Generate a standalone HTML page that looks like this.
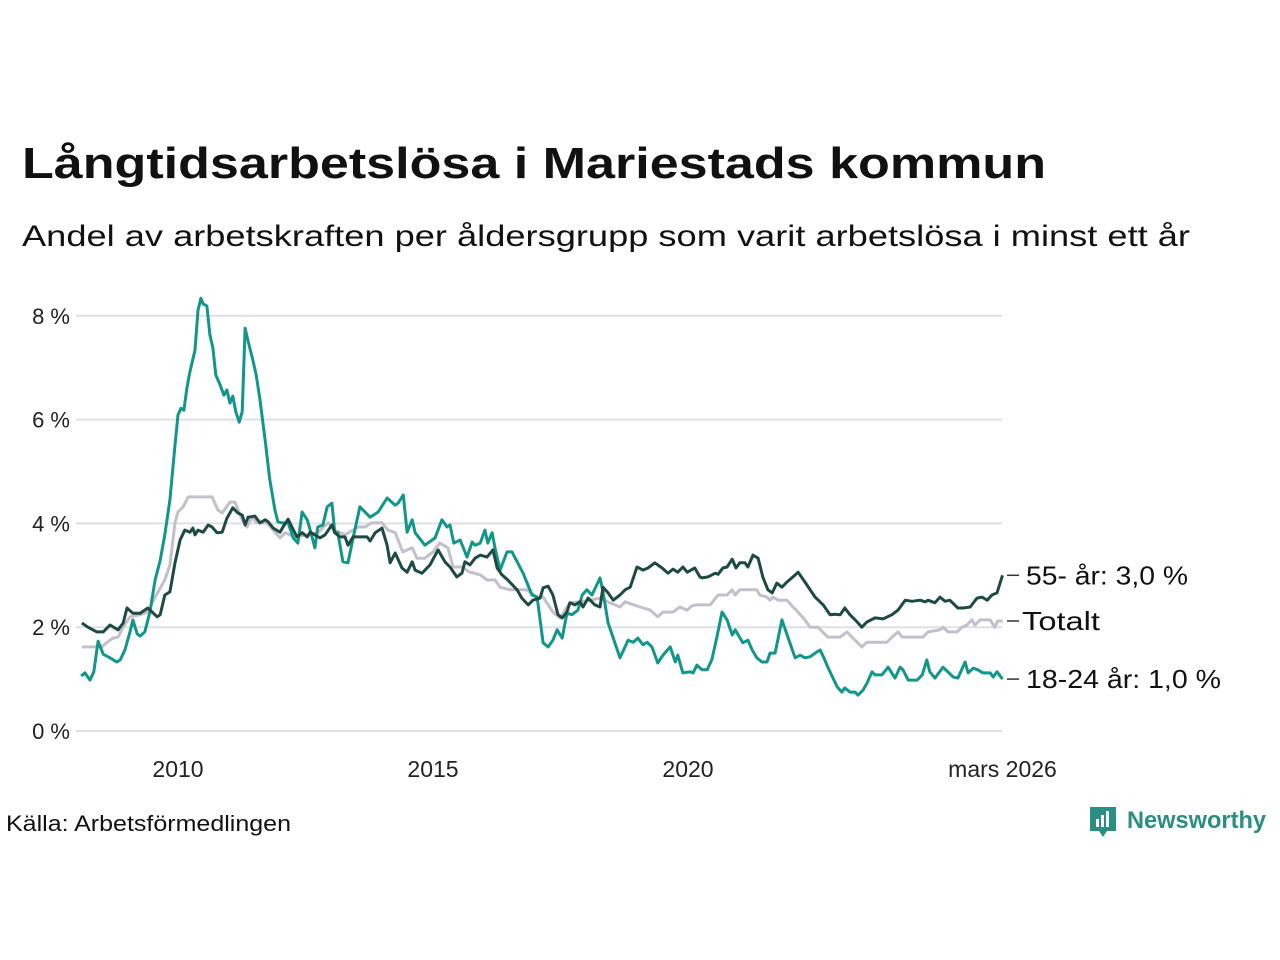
<!DOCTYPE html>
<html><head><meta charset="utf-8"><style>
body{margin:0;background:#fff;}
svg{display:block;font-family:"Liberation Sans","DejaVu Sans",sans-serif;}
</style></head><body>
<svg id="chart" width="1280" height="960" viewBox="0 0 1280 960">
<text x="22" y="178" font-size="44" font-weight="bold" fill="#111" textLength="1024" lengthAdjust="spacingAndGlyphs">Långtidsarbetslösa i Mariestads kommun</text>
<text x="22" y="246" font-size="30" fill="#111" textLength="1168" lengthAdjust="spacingAndGlyphs">Andel av arbetskraften per åldersgrupp som varit arbetslösa i minst ett år</text>
<g id="grid"></g>
<g id="lines"></g>
<g id="labels"></g>
<text x="6" y="831" font-size="22" fill="#111" textLength="285" lengthAdjust="spacingAndGlyphs">Källa: Arbetsförmedlingen</text>
<g>
<path d="M1090 807 h26 v24 h-9 l-4 6 l-4 -6 h-9 z" fill="#2a8f80"/>
<rect x="1096" y="819" width="3" height="8" fill="#fff"/><rect x="1101" y="815" width="3" height="12" fill="#fff"/><rect x="1106" y="811" width="3" height="16" fill="#fff"/>
<text x="1127" y="828" font-size="24" font-weight="bold" fill="#2a8f80" textLength="139" lengthAdjust="spacingAndGlyphs">Newsworthy</text>
</g>
</svg>
<script>
// months since Jan 2008
const yTicks=[0,2,4,6,8];
const yTickLabels=["0 %","2 %","4 %","6 %","8 %"];
const xTicks=[24,84,144,218];
const xTickLabels=["2010","2015","2020","mars 2026"];
const youngM=[1.2,2.1,3.3,4.2,5.2,6.4,8.0,9.6,10.4,11.5,12.7,13.4,14.4,15.1,16.2,17.4,18.6,19.8,20.9,22.1,23.3,24.0,24.7,25.4,26.1,26.8,28.0,28.7,29.4,29.9,30.8,31.5,32.2,32.9,33.9,34.8,35.5,36.2,36.9,37.6,38.4,39.1,39.8,40.7,41.6,42.4,43.3,44.5,45.6,46.8,47.5,48.5,49.9,51.1,52.2,53.2,54.4,55.1,56.2,56.9,58.1,59.1,60.2,60.9,61.6,62.8,64.0,65.2,66.8,69.2,71.1,73.2,75.1,75.8,77.0,77.9,79.1,79.8,82.1,84.5,86.1,87.3,88.0,88.9,90.4,92.0,93.2,93.9,95.1,96.2,96.9,97.9,98.6,99.8,101.4,102.6,105.2,107.3,108.5,109.9,111.1,112.2,113.2,114.4,115.5,116.7,118.1,119.1,120.2,121.4,123.3,124.0,125.2,128.0,129.9,131.1,132.2,133.4,134.4,135.5,136.9,138.1,139.8,141.0,141.6,142.8,144.5,145.2,146.1,147.3,148.5,149.6,150.8,152.0,153.2,154.4,155.1,156.9,158.1,159.1,160.2,161.4,162.6,163.3,164.5,166.1,167.5,169.2,170.4,171.5,172.7,173.9,175.1,176.2,176.9,179.1,180.2,180.9,182.1,183.3,184.0,185.2,186.1,187.3,188.0,189.6,191.1,192.7,193.9,194.6,195.8,197.9,199.1,200.2,200.9,202.1,204.0,206.4,207.5,209.2,209.9,211.1,212.2,213.4,215.1,215.8,216.7,218];
const youngV=[1.06,1.12,0.98,1.14,1.73,1.48,1.41,1.33,1.37,1.56,1.91,2.14,1.87,1.83,1.91,2.29,2.91,3.29,3.78,4.45,5.51,6.09,6.22,6.18,6.61,6.92,7.34,8.11,8.34,8.23,8.19,7.63,7.38,6.86,6.67,6.47,6.57,6.32,6.45,6.15,5.95,6.15,7.76,7.44,7.15,6.86,6.38,5.61,4.84,4.26,4.03,4.01,4.01,3.72,3.62,4.22,4.07,3.87,3.53,3.93,3.97,4.32,4.39,3.82,3.82,3.26,3.24,3.72,4.32,4.12,4.22,4.49,4.35,4.39,4.55,3.83,4.07,3.82,3.58,3.72,4.07,3.93,3.97,3.62,3.68,3.35,3.64,3.58,3.62,3.87,3.62,3.82,3.53,3.10,3.45,3.45,3.04,2.62,2.58,1.70,1.62,1.75,1.95,1.79,2.27,2.24,2.33,2.62,2.72,2.62,2.95,2.68,2.08,1.41,1.75,1.71,1.79,1.66,1.71,1.62,1.31,1.46,1.62,1.33,1.46,1.12,1.14,1.12,1.27,1.18,1.18,1.37,1.81,2.29,2.14,1.85,1.95,1.70,1.75,1.56,1.41,1.33,1.33,1.50,1.50,2.14,1.81,1.41,1.46,1.41,1.43,1.50,1.56,1.37,1.23,0.85,0.75,0.83,0.75,0.75,0.69,0.79,0.92,1.14,1.08,1.08,1.23,1.02,1.23,1.18,0.98,0.98,1.08,1.37,1.14,1.02,1.23,1.04,1.02,1.33,1.12,1.21,1.18,1.12,1.12,1.04,1.14,1.0];
const oldM=[1.4,2.8,4.9,6.4,8.0,9.9,11.1,12.0,13.4,15.1,16.9,19.1,19.8,20.9,22.1,23.3,24.5,25.6,26.8,27.5,28.0,28.7,29.9,31.1,32.0,33.2,34.4,35.5,36.9,38.1,39.1,39.8,40.5,42.1,43.3,44.5,45.2,46.4,48.0,48.7,49.9,50.8,52.0,53.2,54.4,55.1,56.2,57.4,58.6,60.2,60.9,62.1,63.3,64.0,65.2,66.8,68.5,69.2,70.4,72.0,73.2,73.9,75.1,76.7,77.9,79.1,79.8,81.4,83.3,85.2,86.8,88.0,89.6,90.8,91.5,92.7,93.9,95.1,96.7,98.1,99.1,100.2,101.6,103.8,104.9,106.4,107.5,109.2,109.9,111.1,112.2,113.4,114.4,115.5,116.2,117.4,118.6,119.3,120.5,122.1,123.3,124.0,125.2,126.4,128.0,129.2,130.4,132.0,133.4,134.6,136.2,137.9,139.3,140.5,141.6,142.8,143.8,145.6,146.8,147.3,148.7,150.4,151.1,152.2,153.2,154.4,155.3,156.2,157.4,158.1,159.3,160.5,161.6,162.8,163.8,164.9,166.1,167.3,168.7,169.9,171.5,173.9,175.8,177.4,178.6,179.8,180.9,182.1,183.8,184.9,186.1,188.0,189.9,192.0,193.4,195.1,196.7,198.6,199.8,200.5,202.1,203.3,204.5,205.6,207.5,208.7,210.4,212.0,213.2,214.4,215.5,216.7,218];
const oldV=[2.08,2.00,1.91,1.91,2.04,1.95,2.08,2.37,2.27,2.27,2.37,2.20,2.24,2.62,2.68,3.24,3.68,3.87,3.83,3.91,3.78,3.87,3.83,3.97,3.93,3.82,3.83,4.10,4.30,4.20,4.16,3.97,4.12,4.14,4.01,4.07,4.03,3.91,3.83,3.93,4.08,3.93,3.74,3.82,3.74,3.83,3.78,3.72,3.78,3.97,3.82,3.74,3.74,3.58,3.74,3.74,3.74,3.66,3.82,3.91,3.58,3.24,3.43,3.14,3.06,3.26,3.10,3.04,3.20,3.49,3.26,3.16,2.97,3.04,3.26,3.20,3.33,3.39,3.35,3.49,3.14,3.01,2.91,2.72,2.56,2.43,2.52,2.56,2.76,2.79,2.62,2.24,2.18,2.29,2.47,2.43,2.49,2.39,2.56,2.43,2.39,2.77,2.66,2.52,2.62,2.72,2.77,3.16,3.10,3.14,3.24,3.14,3.04,3.12,3.06,3.16,3.06,3.14,2.97,2.95,2.97,3.04,3.02,3.14,3.16,3.31,3.14,3.24,3.24,3.16,3.39,3.33,2.97,2.72,2.66,2.85,2.77,2.87,2.97,3.06,2.87,2.58,2.43,2.24,2.25,2.24,2.37,2.24,2.10,2.00,2.10,2.18,2.16,2.24,2.33,2.52,2.50,2.52,2.49,2.52,2.47,2.58,2.50,2.52,2.37,2.37,2.39,2.56,2.58,2.52,2.62,2.66,3.0];
const totM=[1.4,6.1,7.3,8.7,9.9,11.1,12.7,15.1,16.9,18.6,20.9,22.1,23.3,24.0,25.2,26.4,32.0,33.4,34.4,36.2,37.4,39.1,40.2,41.4,42.6,44.9,46.8,48.0,49.2,51.5,54.6,56.9,59.3,60.9,63.3,66.4,68.0,69.6,72.0,73.4,75.1,76.9,79.1,80.2,82.1,84.0,85.6,87.5,88.7,90.8,92.7,95.1,96.7,98.6,99.8,102.1,106.1,108.5,109.9,112.2,113.9,116.2,118.6,120.9,123.3,125.6,128.0,129.2,132.7,135.1,136.9,138.1,140.5,142.1,143.8,144.9,146.1,149.2,151.1,153.2,154.4,155.1,156.2,160.2,160.9,162.6,163.3,164.0,165.2,167.3,168.7,169.9,171.5,172.7,174.6,176.9,179.8,181.4,182.8,184.9,186.1,190.8,192.0,193.4,194.4,199.3,200.5,203.3,204.0,205.2,207.3,208.5,209.6,210.8,211.5,212.7,215.1,216.2,216.9,218];
const totV=[1.62,1.62,1.71,1.79,1.81,2.00,2.20,2.24,2.29,2.58,2.91,3.20,4.01,4.22,4.32,4.51,4.51,4.26,4.20,4.41,4.41,4.07,3.93,4.12,4.01,4.01,3.83,3.72,3.82,3.74,3.78,3.82,4.01,3.87,3.78,3.93,3.93,4.01,4.01,3.87,3.82,3.45,3.53,3.33,3.33,3.45,3.62,3.53,3.16,3.16,3.06,3.01,2.91,2.91,2.77,2.72,2.72,2.58,2.58,2.29,2.18,2.47,2.49,2.52,2.56,2.47,2.39,2.49,2.39,2.33,2.20,2.29,2.29,2.39,2.33,2.41,2.43,2.43,2.62,2.62,2.72,2.62,2.72,2.72,2.62,2.58,2.52,2.58,2.52,2.52,2.39,2.29,2.14,2.00,2.00,1.81,1.81,1.91,1.79,1.62,1.71,1.71,1.81,1.91,1.81,1.81,1.91,1.95,2.00,1.91,1.91,2.00,2.04,2.14,2.04,2.14,2.14,2.00,2.12,2.12];
const seriesNames=["Totalt","55- år: 3,0 %","18-24 år: 1,0 %"];

const NS="http://www.w3.org/2000/svg";
const X=m=>178+(m-24)*4.25;
const Y=v=>731-v*51.9;
function mk(tag,attrs,parent){const e=document.createElementNS(NS,tag);for(const k in attrs)e.setAttribute(k,attrs[k]);parent.appendChild(e);return e;}
const grid=document.getElementById('grid');
yTicks.forEach((t,i)=>{
  const l=mk('line',{x1:76,x2:1002,y1:Y(t),y2:Y(t),stroke:'#e0dfe3','stroke-width':2},grid);
  
  
  const tx=mk('text',{x:70,y:Y(t)+8,'font-size':22,fill:'#222','text-anchor':'end'},grid);
  tx.textContent=yTickLabels[i];
  
  
});
xTicks.forEach((t,i)=>{
  const tx=mk('text',{x:X(t),y:777,'font-size':23,fill:'#222','text-anchor':'middle'},grid);
  tx.textContent=xTickLabels[i];
  
  
});
const lines=document.getElementById('lines');
function draw(ms,vs,color,name){
  const d=ms.map((m,i)=>(i?'L':'M')+X(m).toFixed(1)+' '+Y(vs[i]).toFixed(1)).join(' ');
  const p=mk('path',{d:d,fill:'none',stroke:color,'stroke-width':3,'stroke-linejoin':'round'},lines);
  
  
}
draw(totM,totV,'#c3bfcb','line-totalt');
draw(youngM,youngV,'#13968a','line-18-24');
draw(oldM,oldV,'#1f4a42','line-55-plus');
const labels=document.getElementById('labels');
const lastVals=[totV[totV.length-1],oldV[oldV.length-1],youngV[youngV.length-1]];
const labelNames=['label-totalt','label-55-plus','label-18-24'];
const labelWidths=[78,162,195];
lastVals.forEach((v,i)=>{
  const y=Y(v);
  mk('line',{x1:1007,x2:1019,y1:y,y2:y,stroke:'#333','stroke-width':1.5},labels);
  const tx=mk('text',{x:i===0?1022:1026,y:y+9,'font-size':26,fill:'#111',textLength:labelWidths[i],lengthAdjust:'spacingAndGlyphs'},labels);
  tx.textContent=seriesNames[i];
  
  
});
</script>
</body></html>
